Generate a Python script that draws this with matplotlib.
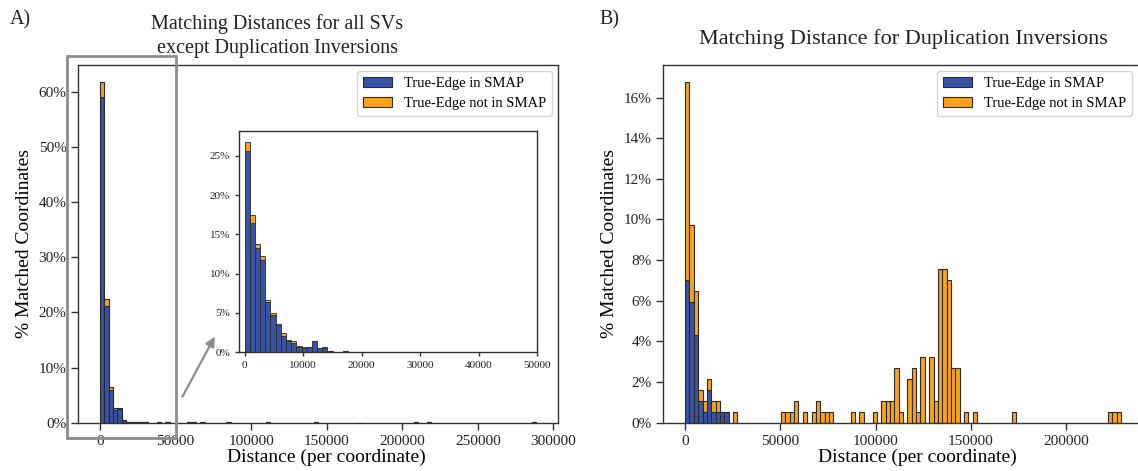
import numpy as np
import matplotlib
matplotlib.use("Agg")
import matplotlib.pyplot as plt
from matplotlib.ticker import PercentFormatter, MultipleLocator
from matplotlib.patches import Rectangle

plt.rcParams['font.family'] = ['Liberation Serif', 'DejaVu Serif']

BLUE = '#3953a4'
ORANGE = '#f9a31c'
EDGE = '#2a2a2a'

# ---------------- Panel A: main histogram (100 bins, 0..288500) ----------------
a_max = 288500
a_nbins = 100
# percentages per bin index (blue = True-Edge in SMAP, orange = stacked on top)
a_idx = [0, 1, 2, 3, 4, 5, 6, 7, 8, 9, 10, 13, 15, 20, 21, 23, 29, 38, 49, 59, 72, 75, 99]
a_blue = [59.1, 21.2, 6.0, 2.3, 2.55, 0.45, 0.15, 0.1, 0.1, 0.08, 0.1, 0.05, 0.05,
          0.1, 0.1, 0.08, 0.06, 0.1, 0.05, 0.04, 0.1, 0.06, 0.08]
a_orange = [2.65, 1.3, 0.5, 0.3, 0.05, 0.05, 0.0, 0.0, 0.02, 0.0, 0.0, 0.0, 0.0,
            0.02, 0.0, 0.0, 0.0, 0.05, 0.0, 0.0, 0.03, 0.0, 0.0]

# ---------------- Panel A inset (50 bins, 0..44300) ----------------
i_max = 44300
i_nbins = 50
i_idx = [0, 1, 2, 3, 4, 5, 6, 7, 8, 9, 10, 11, 12, 13, 14, 15, 16, 17, 19, 21, 22,
         26, 28, 31, 32, 33, 35, 43, 44, 49]
i_blue = [25.6, 16.5, 13.3, 11.7, 6.4, 4.7, 3.5, 2.08, 1.44, 1.23, 0.64, 0.55, 0.64,
          1.40, 0.5, 0.6, 0.12, 0.08, 0.12, 0.08, 0.08, 0.08, 0.1, 0.08, 0.08, 0.08,
          0.08, 0.08, 0.06, 0.1]
i_orange = [1.2, 1.0, 0.5, 0.6, 0.3, 0.3, 0.06, 0.38, 0.09, 0.25, 0.16, 0.09, 0.08,
            0.04, 0.05, 0.04, 0.03, 0.0, 0.03, 0.0, 0.0, 0.0, 0.0, 0.0, 0.0, 0.0,
            0.0, 0.0, 0.0, 0.0]

# ---------------- Panel B (100 bins, 0..228900), counts out of 185 ----------------
b_max = 228900
b_nbins = 100
b_idx = [0, 1, 2, 3, 4, 5, 6, 7, 8, 9, 11, 22, 23, 24, 25, 27, 29, 30, 31, 32, 33,
         38, 40, 43, 45, 46, 47, 48, 49, 51, 52, 53, 54, 56, 57, 58, 59, 60, 61, 62,
         64, 66, 75, 97, 98, 99]
b_blue_cnt = [13, 11, 8, 2, 1, 3, 1, 1, 1, 1] + [0] * 36
b_orange_cnt = [18, 7, 4, 1, 1, 1, 1, 1, 0, 0, 1, 1, 1, 1, 2, 1, 1, 2, 1, 1, 1,
                1, 1, 1, 2, 2, 2, 5, 1, 4, 5, 1, 6, 6, 2, 14, 14, 13, 5, 5,
                1, 1, 1, 1, 1, 1]

legend_labels = ['True-Edge in SMAP', 'True-Edge not in SMAP']


def draw_stacked(ax, idx, blue, orange, vmax, nbins, lw=0.8):
    w = vmax / nbins
    edges = np.linspace(0, vmax, nbins + 1)
    left = edges[np.array(idx)]
    blue = np.asarray(blue, float)
    orange = np.asarray(orange, float)
    hb = ax.bar(left, blue, width=w, align='edge', color=BLUE, edgecolor=EDGE,
                linewidth=lw, label=legend_labels[0])
    ho = ax.bar(left, orange, width=w, bottom=blue, align='edge', color=ORANGE,
                edgecolor=EDGE, linewidth=lw, label=legend_labels[1])
    return hb, ho


def style_axes(ax, tick_size):
    for s in ax.spines.values():
        s.set_color('#333333')
        s.set_linewidth(1.0)
    ax.tick_params(axis='both', direction='out', length=5, width=1, color='#333333',
                   labelsize=tick_size, labelcolor='#222222')


fig = plt.figure(figsize=(11.38, 4.71), dpi=100)

# Panel A main
axA = fig.add_axes([0.0688, 0.1025, 0.4213, 0.7594])
draw_stacked(axA, a_idx, a_blue, a_orange, a_max, a_nbins)
axA.set_xlim(-14400, 302900)
axA.set_ylim(0, 64.8)
axA.yaxis.set_major_locator(MultipleLocator(10))
axA.yaxis.set_major_formatter(PercentFormatter(decimals=0))
axA.xaxis.set_major_locator(MultipleLocator(50000))
style_axes(axA, 11)
axA.set_xlabel('Distance (per coordinate)', fontsize=14, labelpad=1, x=0.517)
axA.set_ylabel('% Matched Coordinates', fontsize=14, labelpad=4)
axA.legend(loc='upper right', fontsize=10.5, frameon=True, fancybox=True,
           edgecolor='#cccccc', borderaxespad=0.4, handlelength=2.0)
axA.set_title('Matching Distances for all SVs\nexcept Duplication Inversions',
              fontsize=14.5, pad=9, color='#222222', x=0.4145, linespacing=1.3)

# zoom rectangle and arrow
rect = Rectangle((-22000, -2.7), 72000, 69.2, fill=False, edgecolor='#8c8c8c',
                 linewidth=2, clip_on=False, zorder=5)
axA.add_patch(rect)
axA.annotate('', xy=(75900, 15.6), xytext=(54500, 4.7),
             arrowprops=dict(arrowstyle='-|>', color='#8c8c8c', lw=1.6,
                             mutation_scale=14, shrinkA=0, shrinkB=0))

# Inset
axI = fig.add_axes([0.2103, 0.252, 0.2616, 0.470])
draw_stacked(axI, i_idx, i_blue, i_orange, i_max, i_nbins, lw=0.6)
axI.set_xlim(-900, 50000)
axI.set_ylim(0, 28.15)
axI.yaxis.set_major_locator(MultipleLocator(5))
axI.yaxis.set_major_formatter(PercentFormatter(decimals=0))
axI.xaxis.set_major_locator(MultipleLocator(10000))
style_axes(axI, 8)
axI.tick_params(length=3)

# Panel B
axB = fig.add_axes([0.5829, 0.1025, 0.4213, 0.7594])
total_b = sum(b_blue_cnt) + sum(b_orange_cnt)
b_blue_pct = [c / total_b * 100 for c in b_blue_cnt]
b_orange_pct = [c / total_b * 100 for c in b_orange_cnt]
draw_stacked(axB, b_idx, b_blue_pct, b_orange_pct, b_max, b_nbins)
axB.set_xlim(-11450, 240350)
axB.set_ylim(0, 17.6)
axB.yaxis.set_major_locator(MultipleLocator(2))
axB.yaxis.set_major_formatter(PercentFormatter(decimals=0))
axB.xaxis.set_major_locator(MultipleLocator(50000))
style_axes(axB, 11)
axB.set_xlabel('Distance (per coordinate)', fontsize=14, labelpad=1, x=0.529)
axB.set_ylabel('% Matched Coordinates', fontsize=14, labelpad=4)
axB.legend(loc='upper right', fontsize=10.5, frameon=True, fancybox=True,
           edgecolor='#cccccc', borderaxespad=0.4, handlelength=2.0,
           bbox_to_anchor=(0.99, 1.0))
axB.set_title('Matching Distance for Duplication Inversions', fontsize=16, pad=15,
              color='#222222')

fig.text(0.009, 0.958, 'A)', fontsize=14.5, color='#222222', va='center')
fig.text(0.527, 0.958, 'B)', fontsize=14.5, color='#222222', va='center')

fig.savefig('out.png', dpi=100)
